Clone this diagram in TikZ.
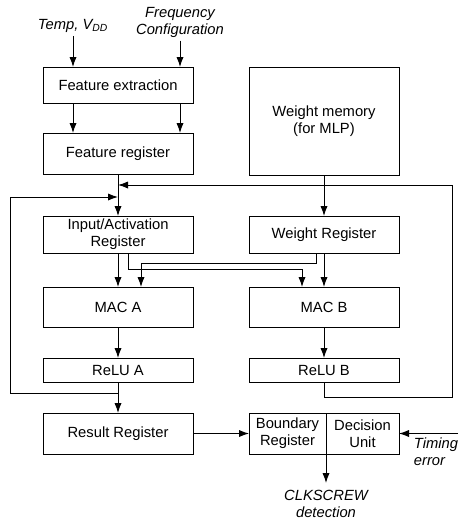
\documentclass[tikz,border=0pt]{standalone}
\usepackage{fontspec}
\setmainfont{Liberation Sans}
\usetikzlibrary{arrows.meta, positioning}

\begin{document}
\begin{tikzpicture}[
    line width=0.7pt,
    node distance=0.75cm and 1.4cm,
    every node/.style={font=\fontsize{10.5}{12}\selectfont},
    box/.style={rectangle, draw, align=center, outer sep=0pt, inner sep=1pt,
                minimum width=3.75cm, minimum height=0.9cm},
    lbl/.style={font=\fontsize{10.5}{12}\selectfont\itshape, align=center, inner sep=2pt},
    arrow/.style={-{Latex[length=2.5mm, width=1.8mm]}}
  ]
  \useasboundingbox (0,0) rectangle (11.45,-13.075);

  \node[box, anchor=north west] (fe) at (1.075,-1.675) {Feature extraction};
  \node[box, below=of fe, minimum height=1.025cm] (freg) {Feature register};
  \node[box, anchor=north west, minimum height=2.7cm] (wmem) at ([xshift=1.4cm]fe.north east) {Weight memory\\(for MLP)};
  \node[box, below=1.05cm of freg, minimum height=0.925cm] (ireg) {Input/Activation\\Register};
  \node[box, right=of ireg, minimum height=0.925cm] (wreg) {Weight Register};
  \node[box, below=0.85cm of ireg, minimum height=1cm] (maca) {MAC A};
  \node[box, right=of maca, minimum height=1cm] (macb) {MAC B};
  \node[box, below=0.775cm of maca, minimum height=0.6cm] (relua) {ReLU A};
  \node[box, right=of relua, minimum height=0.6cm] (relub) {ReLU B};
  \node[box, below=0.775cm of relua, minimum height=1.025cm] (rreg) {Result Register};
  \node[box, right=of rreg, minimum width=1.925cm, minimum height=1.025cm] (bound) {Boundary\\Register};
  \node[box, anchor=west, minimum width=1.825cm, minimum height=1.025cm] (decis) at (bound.east) {Decision\\Unit};

  % inputs and outputs
  \node[lbl] (temp) at (1.825,-0.65) {Temp, V\textsubscript{DD}};
  \node[lbl] (freq) at (4.5,-0.56) {Frequency\\Configuration};
  \node[lbl, anchor=north west, align=left, inner sep=0pt] (timing) at ([xshift=0.36cm, yshift=-0.1cm]decis.east) {Timing\\error};
  \node[lbl, anchor=north, inner sep=0pt] (clk) at ([yshift=-0.9cm]bound.south east) {CLKSCREW\\detection};

  \coordinate[below=0.275cm of freg] (jtop);
  \coordinate[below=0.575cm of freg] (jleft);
  \coordinate[below=0.275cm of relua] (jbota);
  \coordinate[below=0.375cm of relub] (jbotb);
  \coordinate (lx) at (0.25,0);
  \coordinate (rx) at (11.3,0);
  \coordinate (redge) at (11.45,0);

  \draw[arrow] (temp) -- (temp |- fe.north);
  \draw[arrow] (freq) -- (freq |- fe.north);
  \draw[arrow] (temp |- fe.south) -- (temp |- freg.north);
  \draw[arrow] (freq |- fe.south) -- (freq |- freg.north);
  \draw[arrow] (freg) -- (ireg);
  \draw[arrow] (wmem) -- (wreg);
  \draw[arrow] (ireg) -- (maca);
  \draw[arrow] (wreg) -- (macb);
  \draw[arrow] ([xshift=0.25cm]ireg.south) -- ++(0,-0.4) -| ([xshift=-0.55cm]macb.north);
  \draw[arrow] ([xshift=-0.2cm]wreg.south) -- ++(0,-0.25) -| ([xshift=0.575cm]maca.north);
  \draw[arrow] (maca) -- (relua);
  \draw[arrow] (macb) -- (relub);
  \draw[arrow] (relua) -- (rreg);

  % feedback loops
  \draw[arrow] (relub) |- (jbotb -| rx) |- (jtop);
  \draw[arrow] (jbota) -- (jbota -| lx) |- (jleft);

  \draw[arrow] (rreg) -- (bound);
  \draw[arrow] (decis -| redge) -- (decis);
  \draw[arrow] (bound.south east) -- ([yshift=0.175cm]clk.north);
\end{tikzpicture}
\end{document}
